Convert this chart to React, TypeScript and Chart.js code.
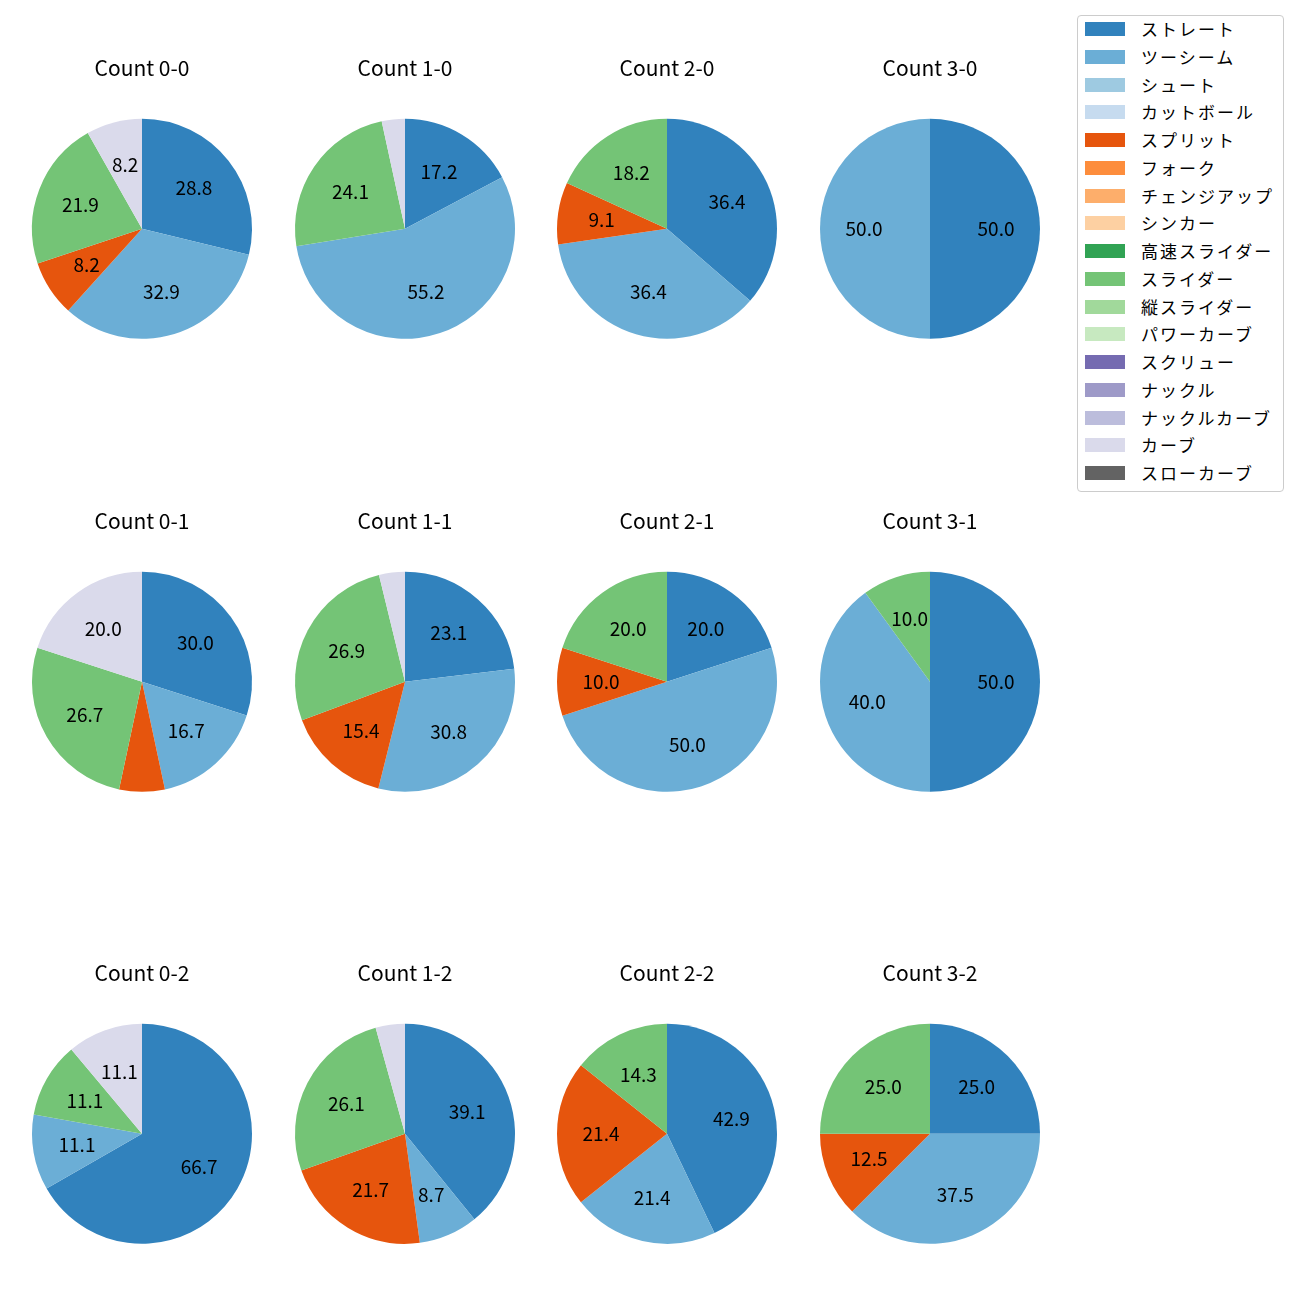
import React, { useEffect, useRef } from "react";
import { Chart, registerables } from "chart.js";

Chart.register(...registerables);

const pitchTypes = [
  "ストレート",
  "ツーシーム",
  "シュート",
  "カットボール",
  "スプリット",
  "フォーク",
  "チェンジアップ",
  "シンカー",
  "高速スライダー",
  "スライダー",
  "縦スライダー",
  "パワーカーブ",
  "スクリュー",
  "ナックル",
  "ナックルカーブ",
  "カーブ",
  "スローカーブ",
];

const pitchColors = [
  "#3182bd",
  "#6baed6",
  "#9ecae1",
  "#c6dbef",
  "#e6550d",
  "#fd8d3c",
  "#fdae6b",
  "#fdd0a2",
  "#31a354",
  "#74c476",
  "#a1d99b",
  "#c7e9c0",
  "#756bb1",
  "#9e9ac8",
  "#bcbddc",
  "#dadaeb",
  "#636363",
];

const countLabels = ["0-0", "1-0", "2-0", "3-0", "0-1", "1-1", "2-1", "3-1", "0-2", "1-2", "2-2", "3-2"];

const straightPct = [28.8, 17.2, 36.4, 50.0, 30.0, 23.1, 20.0, 50.0, 66.7, 39.1, 42.9, 25.0];
const twoSeamPct = [32.9, 55.2, 36.4, 50.0, 16.7, 30.8, 50.0, 40.0, 11.1, 8.7, 21.4, 37.5];
const splitPct = [8.2, 0, 9.1, 0, 6.7, 15.4, 10.0, 0, 0, 21.7, 21.4, 12.5];
const sliderPct = [21.9, 24.1, 18.2, 0, 26.7, 26.9, 20.0, 10.0, 11.1, 26.1, 14.3, 25.0];
const curvePct = [8.2, 3.4, 0, 0, 20.0, 3.8, 0, 0, 11.1, 4.3, 0, 0];

const labelThreshold = 7;

function valuesFor(i: number): number[] {
  const map: Record<string, number> = {
    "ストレート": straightPct[i],
    "ツーシーム": twoSeamPct[i],
    "スプリット": splitPct[i],
    "スライダー": sliderPct[i],
    "カーブ": curvePct[i],
  };
  return pitchTypes.map((t) => map[t] ?? 0);
}

const FONT = "'Noto Sans CJK JP', 'Noto Sans', sans-serif";
const colCenters = [142, 404.5, 667, 930];
const rowCenters = [229, 682, 1134];
const CW = 250;
const CH = 300;

const pctLabelPlugin = {
  id: "pctLabels",
  afterDatasetsDraw(chart: any) {
    const ctx = chart.ctx;
    const meta = chart.getDatasetMeta(0);
    const data = chart.data.datasets[0].data as number[];
    ctx.save();
    ctx.font = `19px ${FONT}`;
    ctx.fillStyle = "#000";
    ctx.textAlign = "center";
    ctx.textBaseline = "middle";
    meta.data.forEach((arc: any, j: number) => {
      const v = data[j];
      if (!v || v < labelThreshold) return;
      const p = arc.getProps(["x", "y", "startAngle", "endAngle", "outerRadius"], true);
      const mid = (p.startAngle + p.endAngle) / 2;
      const r = p.outerRadius * 0.6;
      ctx.fillText(v.toFixed(1), p.x + Math.cos(mid) * r, p.y + Math.sin(mid) * r);
    });
    ctx.restore();
  },
};

function PieCell({ index }: { index: number }) {
  const ref = useRef<HTMLCanvasElement>(null);
  const col = index % 4;
  const row = Math.floor(index / 4);
  const cx = colCenters[col];
  const cy = rowCenters[row];
  useEffect(() => {
    if (!ref.current) return;
    const chart = new Chart(ref.current, {
      type: "pie",
      data: {
        labels: pitchTypes,
        datasets: [
          {
            data: valuesFor(index),
            backgroundColor: pitchColors,
            borderWidth: 0,
            hoverOffset: 0,
          },
        ],
      },
      options: {
        animation: false,
        responsive: false,
        events: [],
        layout: { padding: { left: 15, right: 15, top: 0, bottom: 10 } },
        plugins: {
          legend: { display: false },
          tooltip: { enabled: false },
          title: {
            display: true,
            text: `Count ${countLabels[index]}`,
            color: "#000",
            font: { family: FONT, size: 21, weight: "normal", lineHeight: 1.2 },
            padding: { top: 6.4, bottom: 38 },
          },
        },
      },
      plugins: [pctLabelPlugin],
    });
    return () => chart.destroy();
  }, [index]);
  return (
    <canvas
      ref={ref}
      width={CW}
      height={CH}
      style={{ position: "absolute", left: cx - CW / 2, top: cy - 180, width: CW, height: CH }}
    />
  );
}

function Legend() {
  return (
    <div
      style={{
        position: "absolute",
        left: 1077,
        top: 15,
        width: 205,
        height: 475,
        border: "1px solid #cccccc",
        borderRadius: 4,
        background: "#fff",
        fontFamily: FONT,
      }}
    >
      {pitchTypes.map((t, i) => (
        <div
          key={t}
          style={{
            position: "absolute",
            left: 0,
            top: 13 + i * 27.75 - 12,
            height: 24,
            display: "flex",
            alignItems: "center",
            whiteSpace: "nowrap",
          }}
        >
          <div style={{ marginLeft: 7, width: 40, height: 14, background: pitchColors[i] }} />
          <span style={{ marginLeft: 16, fontSize: 17, letterSpacing: 2, color: "#000", lineHeight: "24px" }}>{t}</span>
        </div>
      ))}
    </div>
  );
}

export default function App() {
  return (
    <div style={{ position: "absolute", left: 0, top: 0, width: 1300, height: 1300, background: "#fff" }}>
      {countLabels.map((_, i) => (
        <PieCell key={i} index={i} />
      ))}
      <Legend />
    </div>
  );
}
